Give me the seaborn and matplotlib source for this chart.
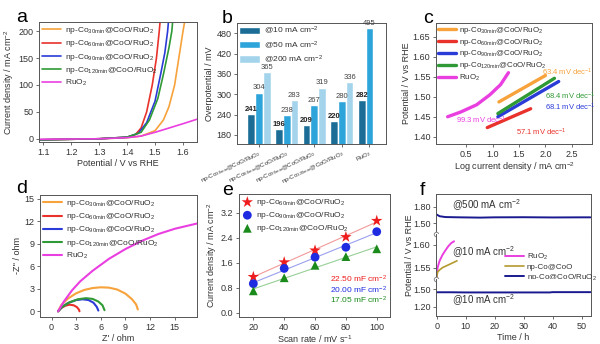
import matplotlib
matplotlib.use("Agg")
import matplotlib.pyplot as plt
import seaborn as sns
import numpy as np
import pandas as pd

# ---------------- data ----------------
LAB30 = r"np-Co$_{30min}$@CoO/RuO$_2$"
LAB60 = r"np-Co$_{60min}$@CoO/RuO$_2$"
LAB90 = r"np-Co$_{90min}$@CoO/RuO$_2$"
LAB120 = r"np-Co$_{120min}$@CoO/RuO$_2$"
LABRU = r"RuO$_2$"

# (a) LSV curves
a_pot_30 = [1.08, 1.30, 1.40, 1.45, 1.50, 1.53, 1.55, 1.57, 1.585, 1.60, 1.61]
a_j_30 = [-2, 0, 2, 5, 15, 35, 60, 100, 150, 200, 230]
a_pot_60 = [1.08, 1.30, 1.40, 1.43, 1.45, 1.47, 1.49, 1.505, 1.515, 1.52]
a_j_60 = [-2, 0, 3, 8, 20, 50, 100, 150, 200, 230]
a_pot_90 = [1.08, 1.30, 1.40, 1.44, 1.47, 1.50, 1.52, 1.535, 1.545, 1.55]
a_j_90 = [-2, 0, 3, 10, 30, 70, 120, 160, 200, 230]
a_pot_120 = [1.08, 1.30, 1.40, 1.45, 1.48, 1.51, 1.53, 1.55, 1.56, 1.565]
a_j_120 = [-2, 0, 3, 12, 35, 75, 120, 170, 200, 230]
a_pot_ru = [1.08, 1.30, 1.40, 1.45, 1.50, 1.55, 1.60, 1.66]
a_j_ru = [-1, 0, 2, 5, 12, 20, 28, 38]

# (b) overpotentials
b_cats = [LAB30, LAB60, LAB90, LAB120, LABRU]
b_series = [r"@10 mA cm$^{-2}$", r"@50 mA cm$^{-2}$", r"@200 mA cm$^{-2}$"]
b_10 = [241, 196, 209, 220, 282]
b_50 = [304, 238, 267, 280, 495]
b_200 = [365, 283, 319, 336, np.nan]

# (c) Tafel
c_x_30 = [1.12, 2.00]
c_y_30 = [1.487, 1.553]
c_x_60 = [0.90, 1.72]
c_y_60 = [1.423, 1.470]
c_x_90 = [1.10, 2.25]
c_y_90 = [1.450, 1.538]
c_x_120 = [1.10, 2.17]
c_y_120 = [1.458, 1.546]
c_x_ru = [0.15, 0.40, 0.70, 0.95, 1.15, 1.30]
c_y_ru = [1.450, 1.462, 1.480, 1.505, 1.530, 1.560]

# (d) Nyquist
d_re_30 = [0.8, 1.2, 2.0, 3.0, 4.0, 5.0, 6.0, 7.0, 8.0, 9.0, 9.8, 10.3, 10.5]
d_im_30 = [0.0, 0.85, 1.7, 2.4, 2.85, 3.1, 3.2, 3.15, 2.9, 2.35, 1.6, 0.9, 0.25]
d_re_60 = [0.8, 1.2, 1.7, 2.2, 2.7, 3.1, 3.35, 3.4]
d_im_60 = [0.0, 0.45, 0.75, 0.88, 0.8, 0.55, 0.2, 0.0]
d_re_90 = [0.8, 1.3, 2.0, 3.0, 3.8, 4.5, 5.1, 5.5, 5.7]
d_im_90 = [0.0, 0.6, 1.1, 1.5, 1.6, 1.5, 1.15, 0.6, 0.1]
d_re_120 = [0.8, 1.3, 2.2, 3.2, 4.2, 5.0, 5.7, 6.2, 6.45]
d_im_120 = [0.0, 0.6, 1.2, 1.6, 1.75, 1.65, 1.3, 0.8, 0.15]
d_re_ru = [0.8, 1.5, 2.5, 3.5, 5.0, 7.0, 9.0, 11.0, 13.0, 15.0, 17.7]
d_im_ru = [0.0, 1.3, 2.8, 4.0, 5.4, 7.0, 8.3, 9.4, 10.3, 11.0, 11.7]

# (e) double-layer capacitance
e_rate = [20, 40, 60, 80, 100]
e_j60 = [1.15, 1.62, 2.00, 2.43, 2.95]
e_j90 = [0.93, 1.42, 1.78, 2.10, 2.60]
e_j120 = [0.70, 1.12, 1.52, 1.80, 2.05]

# (f) stability
f_t_500 = [0, 1, 3, 8, 15, 20, 30, 40, 50, 53]
f_v_500 = [1.66, 1.63, 1.615, 1.61, 1.605, 1.61, 1.612, 1.608, 1.61, 1.61]
f_t_ru = [0, 0.3, 1, 2, 3, 4, 5, 6]
f_v_ru = [1.528, 1.550, 1.565, 1.578, 1.588, 1.597, 1.604, 1.608]
f_t_co = [0, 0.3, 1, 2, 4, 6, 7]
f_v_co = [1.528, 1.540, 1.545, 1.550, 1.556, 1.562, 1.565]
f_t_10 = [0, 5, 10, 20, 30, 39, 40, 45, 53]
f_v_10 = [1.445, 1.445, 1.442, 1.442, 1.442, 1.442, 1.447, 1.447, 1.447]

# ---------------- style ----------------
sns.set_theme(style="ticks")
plt.rcParams.update({
    "font.family": ["Liberation Sans", "DejaVu Sans"],
    "mathtext.fontset": "custom",
    "mathtext.rm": "Liberation Sans",
    "mathtext.it": "Liberation Sans:italic",
    "mathtext.bf": "Liberation Sans:bold",
    "mathtext.default": "regular",
    "axes.edgecolor": "#555555",
    "axes.linewidth": 0.7,
    "xtick.color": "#555555",
    "ytick.color": "#555555",
    "xtick.labelcolor": "#333333",
    "ytick.labelcolor": "#333333",
    "xtick.major.size": 2.5,
    "ytick.major.size": 2.5,
    "xtick.major.width": 0.6,
    "ytick.major.width": 0.6,
    "xtick.labelsize": 6.5,
    "ytick.labelsize": 6.5,
    "axes.labelsize": 6.5,
    "axes.labelcolor": "#333333",
    "axes.labelpad": 1.5,
    "xtick.major.pad": 1.5,
    "ytick.major.pad": 1.5,
    "text.color": "#333333",
})

C_OR = "#f7a23b"
C_RED = "#e8322b"
C_BLUE = "#2a3bd8"
C_GREEN = "#2f9a35"
C_MAG = "#ea3fe0"

W, H = 600, 344
fig = plt.figure(figsize=(6.0, 3.44), dpi=100)


def add_ax(l, t, r, b):
    return fig.add_axes([l / W, 1 - b / H, (r - l) / W, (b - t) / H])


def letter(x, y, s):
    fig.text(x / W, 1 - y / H, s, fontsize=14, color="black", va="baseline", ha="left")


leg_kw = dict(frameon=False, fontsize=6, labelspacing=0.25, borderaxespad=0.2,
              handletextpad=0.4, borderpad=0.2)

# ---------------- (a) ----------------
axA = add_ax(39, 22, 197, 142)
for xs, ys, c, lab in [(a_pot_30, a_j_30, C_OR, LAB30), (a_pot_60, a_j_60, C_RED, LAB60),
                       (a_pot_90, a_j_90, C_BLUE, LAB90), (a_pot_120, a_j_120, C_GREEN, LAB120),
                       (a_pot_ru, a_j_ru, C_MAG, LABRU)]:
    sns.lineplot(x=xs, y=ys, color=c, linewidth=1.2, label=lab, sort=False,
                 estimator=None, ax=axA)
axA.set_xlim(1.085, 1.65)
axA.set_ylim(-6, 217)
axA.set_xticks([1.1, 1.2, 1.3, 1.4, 1.5, 1.6])
axA.set_yticks([0, 50, 100, 150, 200])
axA.set_xlabel("Potential / V vs RHE")
axA.set_ylabel(r"Current density / mA cm$^{-2}$")
axA.legend(loc="upper left", handlelength=2.3, **leg_kw)
letter(16, 22, "a")

# ---------------- (b) ----------------
axB = add_ax(237, 23, 386, 144)
df_b = pd.DataFrame({
    "cat": b_cats * 3,
    "cur": [b_series[0]] * 5 + [b_series[1]] * 5 + [b_series[2]] * 5,
    "eta": b_10 + b_50 + b_200,
})
sns.barplot(data=df_b, x="cat", y="eta", hue="cur", palette=["#1b6d96", "#2ea5da", "#a3d4ec"],
            width=0.84, saturation=1, ax=axB, errorbar=None)
for i, cont in enumerate(axB.containers):
    labs = ["" if not np.isfinite(v) else f"{v:.0f}" for v in cont.datavalues]
    axB.bar_label(cont, labels=labs, fontsize=5.5, padding=1,
                  fontweight="bold" if i == 0 else "normal",
                  color="#222222" if i == 0 else "#444444")
axB.set_ylim(153, 510)
axB.set_xlim(-0.8, 4.6)
axB.set_yticks([180, 240, 300, 360, 420, 480])
axB.set_xlabel("")
axB.set_ylabel("Overpotential / mV")
axB.tick_params(axis="x", labelsize=4.4, pad=1)
for t in axB.get_xticklabels():
    t.set_rotation(25)
    t.set_ha("right")
    t.set_rotation_mode("anchor")
axB.legend(loc="upper left", handlelength=2.6, handleheight=1.0, frameon=False,
           fontsize=6, labelspacing=0.3, borderaxespad=0.1, handletextpad=0.4,
           borderpad=0.1)
letter(222, 23, "b")

# ---------------- (c) ----------------
axC = add_ax(436, 23, 592, 144)
for xs, ys, c, lab in [(c_x_30, c_y_30, C_OR, LAB30), (c_x_60, c_y_60, C_RED, LAB60),
                       (c_x_90, c_y_90, C_BLUE, LAB90), (c_x_120, c_y_120, C_GREEN, LAB120),
                       (c_x_ru, c_y_ru, C_MAG, LABRU)]:
    sns.lineplot(x=xs, y=ys, color=c, linewidth=2.4, label=lab, sort=False,
                 estimator=None, ax=axC)
axC.set_xlim(-0.07, 2.88)
axC.set_ylim(1.382, 1.684)
axC.set_xticks([0.5, 1.0, 1.5, 2.0, 2.5])
axC.set_yticks([1.40, 1.45, 1.50, 1.55, 1.60, 1.65])
axC.set_yticklabels(["1.40", "1.45", "1.50", "1.55", "1.60", "1.65"])
axC.set_xlabel(r"Log current density / mA cm$^{-2}$")
axC.set_ylabel("Potential / V vs RHE")
axC.legend(loc="upper left", handlelength=2.3, frameon=False, fontsize=5.7,
           labelspacing=0.12, borderaxespad=0.05, handletextpad=0.4, borderpad=0.15)
for s, x, y, c in [(r"63.4 mV dec$^{-1}$", 1.93, 1.561, C_OR),
                   (r"68.4 mV dec$^{-1}$", 2.0, 1.501, C_GREEN),
                   (r"68.1 mV dec$^{-1}$", 2.0, 1.474, C_BLUE),
                   (r"99.3 mV dec$^{-1}$", 0.30, 1.440, C_MAG),
                   (r"57.1 mV dec$^{-1}$", 1.45, 1.410, C_RED)]:
    axC.text(x, y, s, color=c, fontsize=5.5, va="center")
letter(423, 23, "c")

# ---------------- (d) ----------------
axD = add_ax(40, 195, 197, 317)
for xs, ys, c, lab in [(d_re_30, d_im_30, C_OR, LAB30), (d_re_60, d_im_60, C_RED, LAB60),
                       (d_re_90, d_im_90, C_BLUE, LAB90), (d_re_120, d_im_120, C_GREEN, LAB120),
                       (d_re_ru, d_im_ru, C_MAG, LABRU)]:
    sns.lineplot(x=xs, y=ys, color=c, linewidth=1.5, label=lab, sort=False,
                 estimator=None, ax=axD)
axD.set_xlim(-1.4, 17.7)
axD.set_ylim(-0.76, 15.5)
axD.set_xticks([0, 3, 6, 9, 12, 15])
axD.set_yticks([0, 3, 6, 9, 12, 15])
axD.set_xlabel("Z' / ohm")
axD.set_ylabel("-Z'' / ohm")
axD.legend(loc="upper left", handlelength=2.3, **leg_kw)
letter(16, 193, "d")

# ---------------- (e) ----------------
axE = add_ax(239, 194, 390, 317)
for ys, c, lc, m, s, lab in [(e_j60, "#ee1c1c", "#f29a9a", "*", 75, LAB60),
                             (e_j90, "#1f2be0", "#9aa0ee", "o", 40, LAB90),
                             (e_j120, "#1a8a1a", "#98cf98", "^", 40, LAB120)]:
    sns.regplot(x=e_rate, y=ys, ci=None, scatter=False, ax=axE,
                line_kws=dict(color=lc, linewidth=0.8))
    sns.scatterplot(x=e_rate, y=ys, marker=m, s=s, color=c, edgecolor="none",
                    label=lab, ax=axE, zorder=3)
axE.set_xlim(10.7, 108.6)
axE.set_ylim(-0.14, 3.81)
axE.set_xticks([20, 40, 60, 80, 100])
axE.set_yticks([0.0, 0.8, 1.6, 2.4, 3.2])
axE.set_yticklabels(["0.0", "0.8", "1.6", "2.4", "3.2"])
axE.set_xlabel(r"Scan rate / mV s$^{-1}$")
axE.set_ylabel(r"Current density / mA cm$^{-2}$")
axE.legend(loc="upper left", handlelength=1.2, **leg_kw)
for s, y, c in [(r"22.50 mF cm$^{-2}$", 1.06, "#ee1c1c"),
                (r"20.00 mF cm$^{-2}$", 0.73, "#1f2be0"),
                (r"17.05 mF cm$^{-2}$", 0.40, "#1a8a1a")]:
    axE.text(70, y, s, color=c, fontsize=6, va="center")
letter(222, 195, "e")

# ---------------- (f) broken axis ----------------
axF1 = add_ax(436, 194, 591, 234)
axF2 = add_ax(436, 234, 591, 279)
axF3 = add_ax(436, 279, 591, 316)
NAVY = "#1a1a90"
sns.lineplot(x=f_t_500, y=f_v_500, color=NAVY, linewidth=1.4, estimator=None, sort=False, ax=axF1)
sns.lineplot(x=f_t_ru, y=f_v_ru, color=C_MAG, linewidth=1.4, estimator=None, sort=False,
             label=LABRU, ax=axF2)
sns.lineplot(x=f_t_co, y=f_v_co, color="#b39a2c", linewidth=1.2, estimator=None, sort=False,
             label="np-Co@CoO", ax=axF2)
sns.lineplot(x=[np.nan, np.nan], y=[np.nan, np.nan], color=NAVY, linewidth=1.4,
             label="np-Co@CoO/RuO$_2$", ax=axF2)
sns.lineplot(x=f_t_10, y=f_v_10, color=NAVY, linewidth=1.4, estimator=None, sort=False, ax=axF3)
for ax in (axF1, axF2, axF3):
    ax.set_xlim(-0.24, 53.2)
axF1.set_ylim(1.31, 2.03)
axF1.set_yticks([1.50, 1.80])
axF1.set_yticklabels(["1.50", "1.80"])
axF2.set_ylim(1.525, 1.624)
axF2.set_yticks([1.55, 1.60])
axF2.set_yticklabels(["1.55", "1.60"])
axF3.set_ylim(1.042, 1.67)
axF3.set_yticks([1.20, 1.50])
axF3.set_yticklabels(["1.20", "1.50"])
axF1.spines["bottom"].set_visible(False)
axF2.spines["top"].set_visible(False)
axF2.spines["bottom"].set_visible(False)
axF3.spines["top"].set_visible(False)
for ax in (axF1, axF2):
    ax.tick_params(axis="x", bottom=False, labelbottom=False)
axF3.set_xticks([0, 10, 20, 30, 40, 50])
axF3.set_xlabel("Time / h")
for ax in (axF1, axF2, axF3):
    ax.set_ylabel("")
for ax in (axF1, axF2):
    ax.plot([0], [0], transform=ax.transAxes, marker="o", ms=3.2, mfc="white",
            mec="#888888", mew=0.7, clip_on=False, zorder=5)
axF1.text(5.2, 1.83, r"@500 mA cm$^{-2}$", fontsize=7, va="center")
axF2.text(5.2, 1.585, r"@10 mA cm$^{-2}$", fontsize=7, va="center")
axF3.text(5.2, 1.31, r"@10 mA cm$^{-2}$", fontsize=7, va="center")
axF2.legend(loc="upper left", bbox_to_anchor=(0.44, 0.62), handlelength=2.3,
            frameon=False, fontsize=5.8, labelspacing=0.15, handletextpad=0.4,
            borderpad=0.1, borderaxespad=0.0)
fig.text(410 / W, 1 - 255 / H, "Potential / V vs RHE", rotation=90, fontsize=6.5,
         va="center", ha="center", color="#333333")
letter(420, 195, "f")

fig.savefig("out.png", dpi=100, facecolor="white")
